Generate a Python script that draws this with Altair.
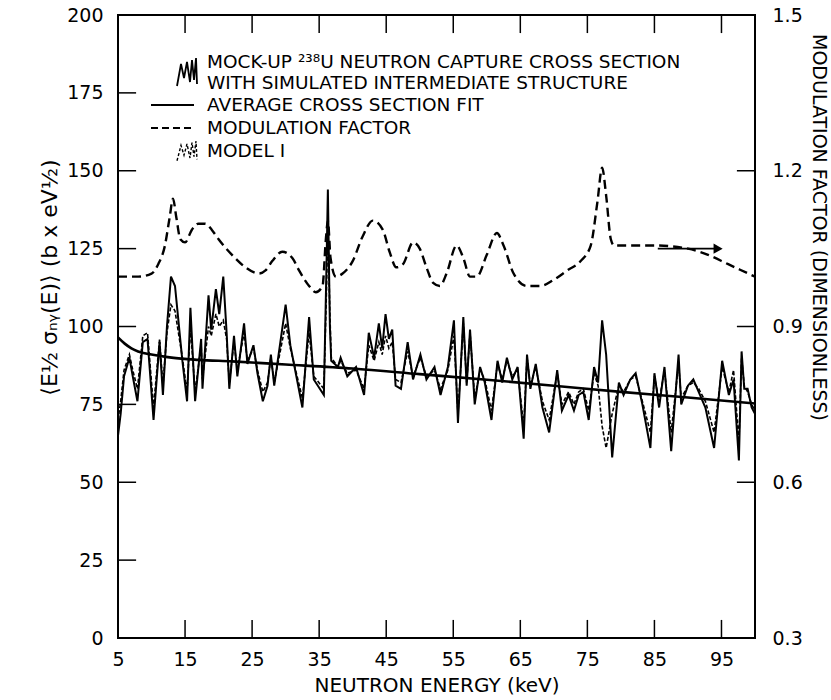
import altair as alt
import pandas as pd

# Mock-up 238U capture cross section with simulated intermediate structure (keV, b*keV^1/2)
MOCK_X = [5.0, 5.4, 5.9, 6.7, 7.2, 7.9, 8.7, 9.4, 10.3, 11.2, 11.7, 12.3, 12.9, 13.5, 14.6, 15.3,
          15.8, 16.5, 17.4, 17.6, 18.5, 18.9, 19.6, 20.1, 20.7, 21.2, 21.6, 22.3, 22.8, 23.8, 24.3,
          25.2, 25.8, 26.6, 27.3, 27.8, 28.3, 30.0, 30.7, 32.5, 33.5, 34.2, 35.7, 36.1, 36.3, 36.6,
          36.8, 37.8, 38.2, 39.2, 40.5, 41.7, 42.4, 43.2, 43.9, 44.4, 44.9, 45.4, 45.9, 46.4, 47.2,
          48.2, 49.0, 50.1, 51.0, 52.2, 53.1, 54.2, 55.1, 55.7, 56.5, 57.0, 57.5, 58.2, 59.0, 59.7,
          60.7, 61.6, 62.3, 63.0, 63.8, 64.6, 65.5, 66.0, 66.5, 67.3, 68.3, 69.3, 70.5, 71.2, 72.2,
          73.0, 73.7, 74.4, 75.2, 76.0, 76.6, 77.2, 77.8, 78.7, 79.7, 80.4, 81.4, 82.2, 83.2, 84.4,
          85.0, 85.7, 86.5, 87.5, 88.6, 89.0, 90.0, 90.8, 91.6, 92.6, 93.9, 95.1, 96.1, 96.8, 97.6,
          98.0, 98.4, 98.9, 99.5, 100.0]
MOCK_Y = [65, 72, 84, 90, 84, 76, 95, 96, 70, 95, 78, 100, 116, 113, 89, 76,
          106, 76, 96, 80, 110, 99, 112, 104, 116, 98, 80, 97, 84, 101, 88,
          94, 85, 76, 81, 91, 81, 107, 94, 74, 103, 83, 78, 120, 144, 100,
          89, 87, 90, 84, 87, 78, 98, 90, 101, 93, 104, 96, 99, 81, 80,
          95, 83, 91, 83, 87, 78, 87, 102, 69, 103, 81, 99, 75, 87, 82,
          70, 89, 82, 90, 83, 87, 64, 91, 80, 88, 74, 66, 86, 73, 78,
          73, 78, 79, 70, 87, 82, 102, 91, 58, 82, 78, 83, 85, 75, 61,
          85, 74, 87, 60, 91, 75, 81, 83, 79, 74, 61, 89, 78, 83, 57,
          92, 80, 80, 74, 72]

# Model I cross section (dashed), same energy grid
MODEL_Y = [70, 76, 86, 91, 86, 80, 97, 98, 74, 96, 81, 98, 107, 105, 90, 79,
           100, 79, 94, 83, 100, 97, 104, 100, 102, 96, 82, 95, 86, 98, 89,
           93, 86, 79, 82, 90, 82, 101, 93, 77, 98, 84, 80, 112, 133, 104,
           90, 87, 89, 85, 86, 80, 94, 89, 95, 91, 97, 93, 95, 83, 82,
           92, 84, 90, 84, 86, 80, 86, 97, 72, 101, 82, 98, 77, 86, 83,
           73, 88, 83, 89, 84, 86, 68, 90, 81, 87, 76, 70, 85, 75, 79,
           75, 79, 80, 73, 85, 81, 68, 61, 72, 81, 79, 83, 84, 76, 66,
           84, 76, 86, 66, 88, 77, 81, 82, 80, 76, 66, 87, 79, 86, 63,
           90, 81, 79, 75, 73]

# Average cross section fit
AVG_X = [5, 6, 7, 8, 10, 13, 17, 22, 30, 40, 50, 60, 70, 80, 90, 100]
AVG_Y = [96.5, 94.5, 93.0, 92.0, 91.0, 90.0, 89.3, 88.8, 87.8, 86.5, 84.7, 82.9, 81.0, 79.0, 77.2, 75.3]

# Modulation factor (dimensionless, right axis)
MOD_X = [5, 8, 10, 11, 12, 12.7, 13.2, 13.7, 14.3, 15, 16, 17, 18, 19, 20, 22, 24, 26, 27, 28,
         29.5, 31, 32, 33.5, 34.5, 35.5, 36, 36.3, 36.7, 37.5, 38.5, 40, 41.5, 43, 44.5, 45.5,
         46.5, 47.5, 49, 50, 51, 52, 53, 54, 55.5, 56.5, 57.5, 58.5, 60, 61.5, 62.5, 64, 66, 68,
         70, 72, 74, 75.5, 76.5, 77.2, 77.8, 78.5, 79, 80, 85, 90, 93, 96, 100]
MOD_Y = [0.996, 0.996, 1.002, 1.020, 1.056, 1.110, 1.146, 1.110, 1.068, 1.062, 1.086, 1.098,
         1.098, 1.086, 1.068, 1.038, 1.014, 1.002, 1.008, 1.026, 1.044, 1.032, 1.008, 0.978,
         0.966, 0.978, 1.068, 1.104, 1.032, 0.996, 1.002, 1.026, 1.074, 1.104, 1.086, 1.044,
         1.014, 1.020, 1.062, 1.050, 1.014, 0.984, 0.978, 1.002, 1.056, 1.032, 0.996, 0.996,
         1.038, 1.080, 1.056, 1.002, 0.978, 0.978, 0.990, 1.008, 1.026, 1.056, 1.140, 1.206,
         1.152, 1.068, 1.056, 1.056, 1.056, 1.050, 1.038, 1.020, 0.996]

X_TICKS = [5, 15, 25, 35, 45, 55, 65, 75, 85, 95]
Y_TICKS = [0, 25, 50, 75, 100, 125, 150, 175, 200]
Y2_TICKS = [0.3, 0.6, 0.9, 1.2, 1.5]

# Arrow pointing to the right-hand axis
ARROW_X = [85.5, 94.5]
ARROW_Y = 125

FONT = "DejaVu Sans"
W, H = 637, 623
TICK_X = 5.8      # inward tick length in left-axis units
TICK_E = 2.7      # inward tick length in keV

mock = pd.DataFrame({"E": MOCK_X, "mock": MOCK_Y, "model": MODEL_Y})
avg = pd.DataFrame({"E": AVG_X, "avg": AVG_Y})
mod = pd.DataFrame({"E": MOD_X, "mod": MOD_Y})

xscale = alt.Scale(domain=[5, 100], nice=False, zero=False)
yscale = alt.Scale(domain=[0, 200], nice=False, zero=False)
y2scale = alt.Scale(domain=[0.3, 1.5], nice=False, zero=False)

xaxis = alt.Axis(values=X_TICKS, ticks=False, domain=False, grid=False, labelFlush=False,
                 labelFont=FONT, labelFontSize=19, labelColor="black", labelPadding=12,
                 title="NEUTRON ENERGY (keV)", titleFont=FONT, titleFontSize=20,
                 titleFontWeight="normal", titleColor="black", titlePadding=6)
yaxis = alt.Axis(values=Y_TICKS, ticks=False, domain=False, grid=False,
                 labelFont=FONT, labelFontSize=19, labelColor="black", labelPadding=15,
                 title="⟨E½ σₙᵧ(E)⟩ (b x eV½)", titleFont="DejaVu Sans", titleFontSize=22,
                 titleFontWeight="normal", titleColor="black", titlePadding=5, titleY=262)
y2axis = alt.Axis(values=Y2_TICKS, orient="right", ticks=False, domain=False, grid=False,
                  format=".1f", labelFont=FONT, labelFontSize=19, labelColor="black",
                  labelPadding=17, title="MODULATION FACTOR (DIMENSIONLESS)", titleFont=FONT,
                  titleFontSize=19, titleFontWeight="normal", titleColor="black", titlePadding=6,
                  titleY=212)

mock_line = alt.Chart(mock).mark_line(color="black", strokeWidth=2).encode(
    x=alt.X("E:Q", scale=xscale, axis=xaxis), y=alt.Y("mock:Q", scale=yscale, axis=yaxis))
model_line = alt.Chart(mock).mark_line(color="black", strokeWidth=1.6, strokeDash=[4, 2]).encode(
    x=alt.X("E:Q", scale=xscale), y=alt.Y("model:Q", scale=yscale))
avg_line = alt.Chart(avg).mark_line(color="black", strokeWidth=2.6, interpolate="monotone").encode(
    x=alt.X("E:Q", scale=xscale), y=alt.Y("avg:Q", scale=yscale))

# inward tick marks on all four sides
xt = pd.DataFrame({"E": X_TICKS[1:], "b0": 0.0, "b1": TICK_X, "t0": 200.0, "t1": 200 - TICK_X})
ticks_bottom = alt.Chart(xt).mark_rule(color="black", strokeWidth=1.5).encode(
    x=alt.X("E:Q", scale=xscale), y=alt.Y("b0:Q", scale=yscale), y2="b1:Q")
ticks_top = alt.Chart(xt).mark_rule(color="black", strokeWidth=1.5).encode(
    x=alt.X("E:Q", scale=xscale), y=alt.Y("t0:Q", scale=yscale), y2="t1:Q")
yt = pd.DataFrame({"v": Y_TICKS[1:-1], "l0": 5.0, "l1": 5.0 + TICK_E})
ticks_left = alt.Chart(yt).mark_rule(color="black", strokeWidth=1.5).encode(
    y=alt.Y("v:Q", scale=yscale), x=alt.X("l0:Q", scale=xscale), x2="l1:Q")
y2t = pd.DataFrame({"v": [(t - 0.3) / 1.2 * 200 for t in Y2_TICKS[1:-1]],
                    "r0": 100.0, "r1": 100.0 - TICK_E})
ticks_right = alt.Chart(y2t).mark_rule(color="black", strokeWidth=1.5).encode(
    y=alt.Y("v:Q", scale=yscale), x=alt.X("r0:Q", scale=xscale), x2="r1:Q")

arrow_df = pd.DataFrame({"x1": [ARROW_X[0]], "x2": [ARROW_X[1]], "y": [ARROW_Y]})
arrow_shaft = alt.Chart(arrow_df).mark_rule(color="black", strokeWidth=1.8).encode(
    x=alt.X("x1:Q", scale=xscale), x2="x2:Q", y=alt.Y("y:Q", scale=yscale))
arrow_head = alt.Chart(arrow_df).mark_point(shape="triangle-right", filled=True, color="black",
                                            size=110, opacity=1).encode(
    x=alt.X("x2:Q", scale=xscale), y=alt.Y("y:Q", scale=yscale))

# legend block (pixel positions inside the plot)
LEG_TEXT = ["MOCK-UP ²³⁸U NEUTRON CAPTURE CROSS SECTION", "WITH SIMULATED INTERMEDIATE STRUCTURE",
            "AVERAGE CROSS SECTION FIT", "MODULATION FACTOR", "MODEL I"]
LEG_Y = [47, 68, 90, 113, 136]
leg_df = pd.DataFrame({"t": LEG_TEXT, "py": LEG_Y})
leg_text = alt.Chart(leg_df).mark_text(align="left", baseline="middle", font=FONT, fontSize=18.5,
                                       color="black").encode(
    x=alt.value(89), y=alt.Y("py:Q", scale=None, axis=None), text="t:N")

ZIG_X = [0, 4, 7, 10, 13, 15, 17, 19, 20]
ZIG_Y = [14, -8, 6, -10, 10, -12, 8, -14, 12]
zig = pd.DataFrame({"px": [59 + v for v in ZIG_X], "py": [57 + v for v in ZIG_Y]})
zig_line = alt.Chart(zig).mark_line(color="black", strokeWidth=1.8).encode(
    x=alt.X("px:Q", scale=None), y=alt.Y("py:Q", scale=None, axis=None))
zig2 = pd.DataFrame({"px": [59 + v for v in ZIG_X], "py": [136 + 0.7 * v for v in ZIG_Y]})
zig2_line = alt.Chart(zig2).mark_line(color="black", strokeWidth=1.4, strokeDash=[3, 2]).encode(
    x=alt.X("px:Q", scale=None), y=alt.Y("py:Q", scale=None, axis=None))
samp = pd.DataFrame({"x1": [33, 33], "x2": [76, 76], "py": [90, 113], "k": ["s", "d"]})
samp_solid = alt.Chart(samp[samp.k == "s"]).mark_rule(color="black", strokeWidth=2).encode(
    x=alt.X("x1:Q", scale=None), x2="x2:Q", y=alt.Y("py:Q", scale=None, axis=None))
samp_dash = alt.Chart(samp[samp.k == "d"]).mark_rule(color="black", strokeWidth=2,
                                                    strokeDash=[7, 4]).encode(
    x=alt.X("x1:Q", scale=None), x2="x2:Q", y=alt.Y("py:Q", scale=None, axis=None))

left = alt.layer(mock_line, model_line, avg_line, ticks_bottom, ticks_top, ticks_left, ticks_right,
                 arrow_shaft, arrow_head)

mod_line = alt.Chart(mod).mark_line(color="black", strokeWidth=2.4, strokeDash=[9, 5],
                                    interpolate="monotone").encode(
    x=alt.X("E:Q", scale=xscale), y=alt.Y("mod:Q", scale=y2scale, axis=y2axis))

decor = alt.layer(leg_text, zig_line, zig2_line, samp_solid, samp_dash)

chart = alt.layer(left, mod_line, decor).resolve_scale(y="independent").properties(
    width=W, height=H, autosize=alt.AutoSizeParams(type="none"),
    padding={"left": 118, "top": 15, "right": 76, "bottom": 62}, background="white"
).configure_view(stroke="black", strokeWidth=2)

chart.save("out.html", embed_options={"renderer": "svg", "actions": False})
